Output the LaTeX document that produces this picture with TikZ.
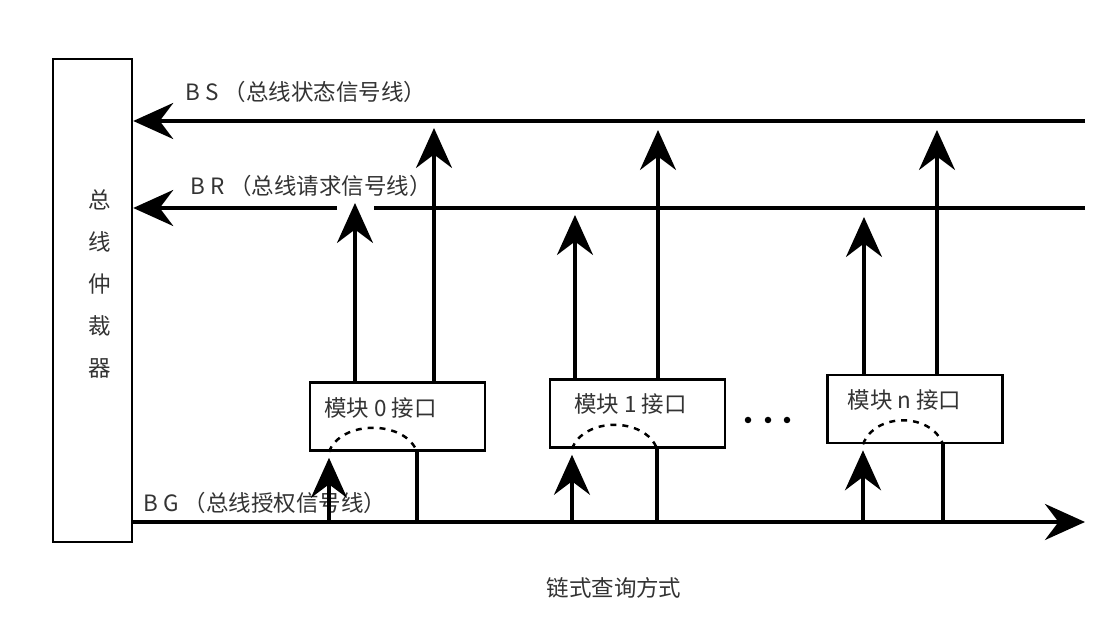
\documentclass[tikz,border=0pt]{standalone}
\usepackage{fontspec}
\setmainfont{Noto Sans CJK SC}
\usetikzlibrary{arrows.meta}
\tikzset{
  bus/.style={line width=2.3pt},
  sig/.style={line width=2pt},
  bigtip/.style={-{Stealth[length=0.8cm,width=0.72cm,inset=0.27cm]}},
  arbbox/.style={draw, line width=1.4pt, minimum width=1.58cm, minimum height=9.66cm, inner sep=0pt},
  modbox/.style={draw, line width=1.5pt, minimum width=3.5cm, minimum height=1.36cm, inner sep=0pt},
  lbl/.style={text=black!80, font=\fontsize{12.8}{15}\selectfont, inner sep=0pt},
  chain/.style={line width=1.4pt, dash pattern=on 3.4pt off 3.4pt}
}
\begin{document}
\begin{tikzpicture}[x=0.02cm, y=-0.02cm]
    \useasboundingbox (0,0) rectangle (1107,617);

    %%arbiter
    \node[arbbox] (arb) at (92.5,300.5) {};
    \foreach \c [count=\i from 0] in {总,线,仲,裁,器}
        \node[lbl] (a\i) at (100,200+42*\i) {\c};

    %%modules
    \node[modbox] (m0) at (397.5,416.5) {};
    \node[modbox] (m1) at (637.5,413.5) {};
    \node[modbox] (mn) at (915,409) {};
    \node[lbl, anchor=west] (t0) at ([xshift=0.3cm, yshift=0.18cm]m0.west) {模块 0 接口};
    \node[lbl, anchor=west] (t1) at ([xshift=0.5cm, yshift=0.2cm]m1.west) {模块 1 接口};
    \node[lbl, anchor=west] (tn) at ([xshift=0.42cm, yshift=0.18cm]mn.west) {模块 n 接口};

    %%bus ends and taps
    \coordinate (bsR) at (1085,121);
    \coordinate (brR) at (1085,208);
    \coordinate (bgR) at (1085,522);
    \coordinate (brA) at (374,208);
    \coordinate (brB) at (337,208);
    \coordinate (r0) at (355,203);
    \coordinate (r1) at (575,215);
    \coordinate (rn) at (864,217);
    \coordinate (s0) at (434,128);
    \coordinate (s1) at (658,130);
    \coordinate (sn) at (937,130);
    \coordinate (g0) at (329,522);
    \coordinate (g1) at (572,522);
    \coordinate (gn) at (863,522);
    \coordinate (e0) at (417,522);
    \coordinate (e1) at (657,522);
    \coordinate (en) at (943,522);

    %%buses
    \draw[bus, bigtip] (bsR) to (arb.east |- bsR);
    \draw[bus] (brR) to (brA);
    \draw[bus, bigtip] (brB) to (arb.east |- brR);
    \draw[bus, bigtip] (arb.east |- bgR) to (bgR);

    \node[lbl, anchor=west] (bsl) at (185,92) {B S （总线状态信号线）};
    \node[lbl, anchor=west] (brl) at (190,186) {B R （总线请求信号线）};
    \node[lbl, anchor=west] (bgl) at (143,503) {B G （总线授权信号线）};

    %%request and status
    \foreach \m/\r/\s in {m0/r0/s0, m1/r1/s1, mn/rn/sn} {
        \draw[sig, bigtip] (\m.north -| \r) to (\r);
        \draw[sig, bigtip] (\m.north -| \s) to (\s);
    }

    %%grant chain
    \foreach \m/\g/\e in {m0/g0/e0, m1/g1/e1, mn/gn/en} {
        \draw[sig, bigtip] (\g) to ([yshift=-0.12cm]\m.south -| \g);
        \draw[sig] (\m.south -| \e) to (\e);
        \draw[chain] (\m.south -| \g) .. controls +(12,-32) and +(-12,-32) .. (\m.south -| \e);
    }

    \foreach \x in {748,768,787}
        \fill (\x,420) circle (0.065cm);

    \node[lbl] (cap) at (614,588) {链式查询方式};
\end{tikzpicture}
\end{document}
